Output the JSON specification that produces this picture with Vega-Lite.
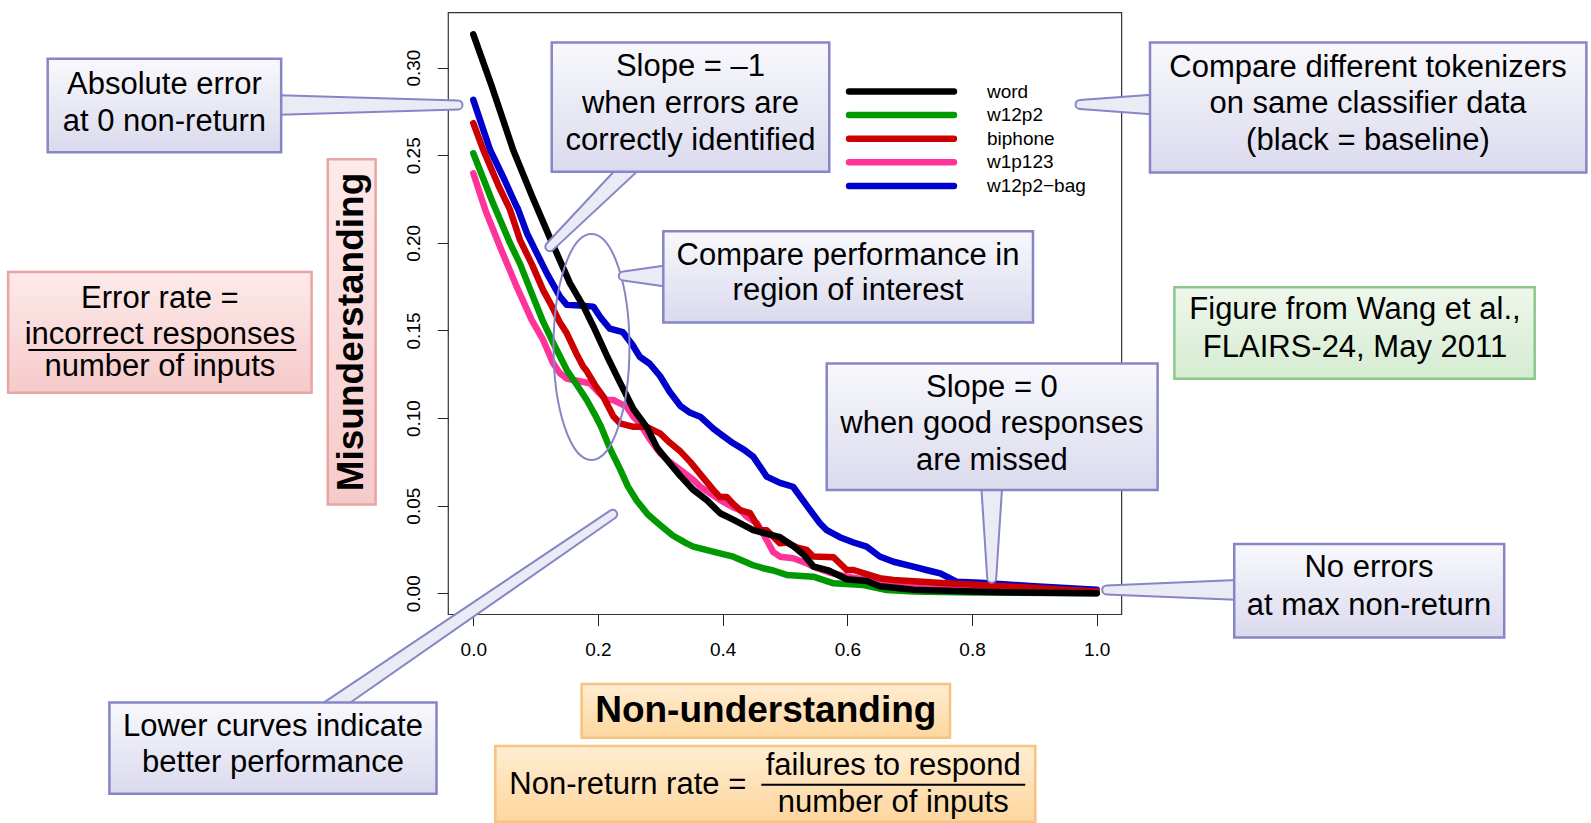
{
  "$schema": "https://vega.github.io/schema/vega-lite/v6.json",
  "width": 1591,
  "height": 823,
  "autosize": {"type": "none"},
  "padding": 0,
  "background": "#ffffff",
  "config": {"view": {"stroke": null}, "font": "Liberation Sans", "axis": {"grid": false, "domain": false}},
  "datasets": {
    "frame": [{"x0": -0.0401, "x1": 1.04, "y0": -0.0121, "y1": 0.3314}],
    "curves": [
      {"s": "w12p2−bag", "x": 0, "y": 0.2816}, {"s": "w12p2−bag", "x": 0.027, "y": 0.253}, {"s": "w12p2−bag", "x": 0.05, "y": 0.236}, {"s": "w12p2−bag", "x": 0.067, "y": 0.2226}, {"s": "w12p2−bag", "x": 0.072, "y": 0.219}, {"s": "w12p2−bag", "x": 0.086, "y": 0.2055}, {"s": "w12p2−bag", "x": 0.102, "y": 0.194}, {"s": "w12p2−bag", "x": 0.118, "y": 0.1826}, {"s": "w12p2−bag", "x": 0.139, "y": 0.1693}, {"s": "w12p2−bag", "x": 0.15, "y": 0.1646}, {"s": "w12p2−bag", "x": 0.17, "y": 0.1642}, {"s": "w12p2−bag", "x": 0.1925, "y": 0.1636}, {"s": "w12p2−bag", "x": 0.205, "y": 0.157}, {"s": "w12p2−bag", "x": 0.219, "y": 0.151}, {"s": "w12p2−bag", "x": 0.24, "y": 0.149}, {"s": "w12p2−bag", "x": 0.255, "y": 0.142}, {"s": "w12p2−bag", "x": 0.267, "y": 0.135}, {"s": "w12p2−bag", "x": 0.283, "y": 0.131}, {"s": "w12p2−bag", "x": 0.2995, "y": 0.124}, {"s": "w12p2−bag", "x": 0.315, "y": 0.115}, {"s": "w12p2−bag", "x": 0.332, "y": 0.107}, {"s": "w12p2−bag", "x": 0.348, "y": 0.103}, {"s": "w12p2−bag", "x": 0.364, "y": 0.1008}, {"s": "w12p2−bag", "x": 0.385, "y": 0.094}, {"s": "w12p2−bag", "x": 0.4, "y": 0.09}, {"s": "w12p2−bag", "x": 0.417, "y": 0.0856}, {"s": "w12p2−bag", "x": 0.434, "y": 0.082}, {"s": "w12p2−bag", "x": 0.449, "y": 0.078}, {"s": "w12p2−bag", "x": 0.4707, "y": 0.0666}, {"s": "w12p2−bag", "x": 0.492, "y": 0.063}, {"s": "w12p2−bag", "x": 0.513, "y": 0.0608}, {"s": "w12p2−bag", "x": 0.535, "y": 0.05}, {"s": "w12p2−bag", "x": 0.556, "y": 0.04}, {"s": "w12p2−bag", "x": 0.567, "y": 0.036}, {"s": "w12p2−bag", "x": 0.588, "y": 0.032}, {"s": "w12p2−bag", "x": 0.61, "y": 0.029}, {"s": "w12p2−bag", "x": 0.631, "y": 0.0266}, {"s": "w12p2−bag", "x": 0.652, "y": 0.021}, {"s": "w12p2−bag", "x": 0.674, "y": 0.018}, {"s": "w12p2−bag", "x": 0.706, "y": 0.0152}, {"s": "w12p2−bag", "x": 0.73, "y": 0.013}, {"s": "w12p2−bag", "x": 0.749, "y": 0.0114}, {"s": "w12p2−bag", "x": 0.775, "y": 0.0066}, {"s": "w12p2−bag", "x": 0.813, "y": 0.006}, {"s": "w12p2−bag", "x": 0.856, "y": 0.005}, {"s": "w12p2−bag", "x": 0.9, "y": 0.004}, {"s": "w12p2−bag", "x": 0.95, "y": 0.003}, {"s": "w12p2−bag", "x": 1.0, "y": 0.002},
      {"s": "w1p123", "x": 0, "y": 0.2397}, {"s": "w1p123", "x": 0.02, "y": 0.218}, {"s": "w1p123", "x": 0.0428, "y": 0.1978}, {"s": "w1p123", "x": 0.0696, "y": 0.175}, {"s": "w1p123", "x": 0.0936, "y": 0.156}, {"s": "w1p123", "x": 0.112, "y": 0.1446}, {"s": "w1p123", "x": 0.128, "y": 0.1313}, {"s": "w1p123", "x": 0.139, "y": 0.1256}, {"s": "w1p123", "x": 0.15, "y": 0.1225}, {"s": "w1p123", "x": 0.1604, "y": 0.1217}, {"s": "w1p123", "x": 0.187, "y": 0.1199}, {"s": "w1p123", "x": 0.2, "y": 0.115}, {"s": "w1p123", "x": 0.214, "y": 0.1103}, {"s": "w1p123", "x": 0.2246, "y": 0.1103}, {"s": "w1p123", "x": 0.2353, "y": 0.1084}, {"s": "w1p123", "x": 0.246, "y": 0.1065}, {"s": "w1p123", "x": 0.2567, "y": 0.1008}, {"s": "w1p123", "x": 0.267, "y": 0.097}, {"s": "w1p123", "x": 0.283, "y": 0.088}, {"s": "w1p123", "x": 0.2995, "y": 0.08}, {"s": "w1p123", "x": 0.315, "y": 0.075}, {"s": "w1p123", "x": 0.332, "y": 0.0704}, {"s": "w1p123", "x": 0.353, "y": 0.0647}, {"s": "w1p123", "x": 0.364, "y": 0.0608}, {"s": "w1p123", "x": 0.3956, "y": 0.0533}, {"s": "w1p123", "x": 0.417, "y": 0.049}, {"s": "w1p123", "x": 0.428, "y": 0.0475}, {"s": "w1p123", "x": 0.4386, "y": 0.0437}, {"s": "w1p123", "x": 0.455, "y": 0.04}, {"s": "w1p123", "x": 0.465, "y": 0.034}, {"s": "w1p123", "x": 0.4812, "y": 0.0235}, {"s": "w1p123", "x": 0.492, "y": 0.0209}, {"s": "w1p123", "x": 0.513, "y": 0.02}, {"s": "w1p123", "x": 0.535, "y": 0.0171}, {"s": "w1p123", "x": 0.5454, "y": 0.0152}, {"s": "w1p123", "x": 0.57, "y": 0.012}, {"s": "w1p123", "x": 0.599, "y": 0.0095}, {"s": "w1p123", "x": 0.652, "y": 0.0066}, {"s": "w1p123", "x": 0.7, "y": 0.005}, {"s": "w1p123", "x": 0.759, "y": 0.0038}, {"s": "w1p123", "x": 0.85, "y": 0.0025}, {"s": "w1p123", "x": 1.0, "y": 0.001},
      {"s": "biphone", "x": 0, "y": 0.2683}, {"s": "biphone", "x": 0.016, "y": 0.253}, {"s": "biphone", "x": 0.04, "y": 0.233}, {"s": "biphone", "x": 0.059, "y": 0.2188}, {"s": "biphone", "x": 0.075, "y": 0.2016}, {"s": "biphone", "x": 0.095, "y": 0.187}, {"s": "biphone", "x": 0.112, "y": 0.173}, {"s": "biphone", "x": 0.125, "y": 0.1645}, {"s": "biphone", "x": 0.139, "y": 0.1545}, {"s": "biphone", "x": 0.15, "y": 0.1484}, {"s": "biphone", "x": 0.165, "y": 0.137}, {"s": "biphone", "x": 0.1765, "y": 0.1293}, {"s": "biphone", "x": 0.182, "y": 0.1268}, {"s": "biphone", "x": 0.195, "y": 0.119}, {"s": "biphone", "x": 0.2085, "y": 0.1122}, {"s": "biphone", "x": 0.2246, "y": 0.101}, {"s": "biphone", "x": 0.2353, "y": 0.097}, {"s": "biphone", "x": 0.257, "y": 0.095}, {"s": "biphone", "x": 0.278, "y": 0.095}, {"s": "biphone", "x": 0.2995, "y": 0.0913}, {"s": "biphone", "x": 0.315, "y": 0.086}, {"s": "biphone", "x": 0.332, "y": 0.081}, {"s": "biphone", "x": 0.348, "y": 0.075}, {"s": "biphone", "x": 0.364, "y": 0.068}, {"s": "biphone", "x": 0.385, "y": 0.059}, {"s": "biphone", "x": 0.3956, "y": 0.055}, {"s": "biphone", "x": 0.4065, "y": 0.055}, {"s": "biphone", "x": 0.417, "y": 0.051}, {"s": "biphone", "x": 0.428, "y": 0.0475}, {"s": "biphone", "x": 0.444, "y": 0.0457}, {"s": "biphone", "x": 0.46, "y": 0.036}, {"s": "biphone", "x": 0.4707, "y": 0.036}, {"s": "biphone", "x": 0.492, "y": 0.0285}, {"s": "biphone", "x": 0.5027, "y": 0.029}, {"s": "biphone", "x": 0.52, "y": 0.026}, {"s": "biphone", "x": 0.535, "y": 0.0247}, {"s": "biphone", "x": 0.5454, "y": 0.021}, {"s": "biphone", "x": 0.578, "y": 0.0205}, {"s": "biphone", "x": 0.599, "y": 0.0133}, {"s": "biphone", "x": 0.61, "y": 0.0133}, {"s": "biphone", "x": 0.652, "y": 0.0086}, {"s": "biphone", "x": 0.674, "y": 0.0076}, {"s": "biphone", "x": 0.759, "y": 0.0057}, {"s": "biphone", "x": 0.866, "y": 0.0038}, {"s": "biphone", "x": 0.95, "y": 0.002}, {"s": "biphone", "x": 1.0, "y": 0.001},
      {"s": "w12p2", "x": 0, "y": 0.2511}, {"s": "w12p2", "x": 0.03, "y": 0.224}, {"s": "w12p2", "x": 0.059, "y": 0.1998}, {"s": "w12p2", "x": 0.075, "y": 0.188}, {"s": "w12p2", "x": 0.095, "y": 0.17}, {"s": "w12p2", "x": 0.112, "y": 0.155}, {"s": "w12p2", "x": 0.128, "y": 0.143}, {"s": "w12p2", "x": 0.15, "y": 0.1274}, {"s": "w12p2", "x": 0.166, "y": 0.119}, {"s": "w12p2", "x": 0.182, "y": 0.1103}, {"s": "w12p2", "x": 0.195, "y": 0.102}, {"s": "w12p2", "x": 0.205, "y": 0.095}, {"s": "w12p2", "x": 0.22, "y": 0.082}, {"s": "w12p2", "x": 0.2353, "y": 0.071}, {"s": "w12p2", "x": 0.248, "y": 0.061}, {"s": "w12p2", "x": 0.262, "y": 0.053}, {"s": "w12p2", "x": 0.28, "y": 0.045}, {"s": "w12p2", "x": 0.2995, "y": 0.039}, {"s": "w12p2", "x": 0.32, "y": 0.033}, {"s": "w12p2", "x": 0.342, "y": 0.0285}, {"s": "w12p2", "x": 0.353, "y": 0.0266}, {"s": "w12p2", "x": 0.3956, "y": 0.0228}, {"s": "w12p2", "x": 0.4171, "y": 0.0209}, {"s": "w12p2", "x": 0.449, "y": 0.016}, {"s": "w12p2", "x": 0.465, "y": 0.0143}, {"s": "w12p2", "x": 0.4812, "y": 0.013}, {"s": "w12p2", "x": 0.5027, "y": 0.0105}, {"s": "w12p2", "x": 0.5454, "y": 0.0095}, {"s": "w12p2", "x": 0.578, "y": 0.0057}, {"s": "w12p2", "x": 0.6256, "y": 0.0047}, {"s": "w12p2", "x": 0.663, "y": 0.0019}, {"s": "w12p2", "x": 0.706, "y": 0.001}, {"s": "w12p2", "x": 0.8, "y": 0.0005}, {"s": "w12p2", "x": 1.0, "y": 0.0},
      {"s": "word", "x": 0, "y": 0.319}, {"s": "word", "x": 0.03, "y": 0.289}, {"s": "word", "x": 0.064, "y": 0.253}, {"s": "word", "x": 0.095, "y": 0.226}, {"s": "word", "x": 0.124, "y": 0.202}, {"s": "word", "x": 0.155, "y": 0.177}, {"s": "word", "x": 0.177, "y": 0.1636}, {"s": "word", "x": 0.193, "y": 0.152}, {"s": "word", "x": 0.215, "y": 0.135}, {"s": "word", "x": 0.235, "y": 0.1205}, {"s": "word", "x": 0.257, "y": 0.105}, {"s": "word", "x": 0.278, "y": 0.095}, {"s": "word", "x": 0.295, "y": 0.083}, {"s": "word", "x": 0.315, "y": 0.0742}, {"s": "word", "x": 0.332, "y": 0.067}, {"s": "word", "x": 0.353, "y": 0.059}, {"s": "word", "x": 0.375, "y": 0.053}, {"s": "word", "x": 0.396, "y": 0.0457}, {"s": "word", "x": 0.417, "y": 0.042}, {"s": "word", "x": 0.449, "y": 0.036}, {"s": "word", "x": 0.47, "y": 0.034}, {"s": "word", "x": 0.492, "y": 0.032}, {"s": "word", "x": 0.513, "y": 0.027}, {"s": "word", "x": 0.53, "y": 0.022}, {"s": "word", "x": 0.546, "y": 0.0152}, {"s": "word", "x": 0.57, "y": 0.013}, {"s": "word", "x": 0.599, "y": 0.008}, {"s": "word", "x": 0.631, "y": 0.007}, {"s": "word", "x": 0.652, "y": 0.004}, {"s": "word", "x": 0.68, "y": 0.003}, {"s": "word", "x": 0.706, "y": 0.002}, {"s": "word", "x": 0.8, "y": 0.001}, {"s": "word", "x": 0.866, "y": 0.0005}, {"s": "word", "x": 1.0, "y": 0.0}
    ],
    "ellipse": [{"x": 0.1896, "y": 0.1406}],
    "pointers": [
      {"p": "p1", "part": "base", "x": -0.4283, "y": 0.2787}, {"p": "p1", "part": "tip", "x": -0.0245, "y": 0.2787},
      {"p": "p2", "part": "base", "x": 0.3675, "y": 0.2848}, {"p": "p2", "part": "tip", "x": 0.1228, "y": 0.1978},
      {"p": "p4", "part": "base", "x": 1.1368, "y": 0.279}, {"p": "p4", "part": "tip", "x": 0.9733, "y": 0.279},
      {"p": "p8", "part": "base", "x": 0.3248, "y": 0.1811}, {"p": "p8", "part": "tip", "x": 0.2406, "y": 0.1811},
      {"p": "p10", "part": "base", "x": 0.8316, "y": 0.0747}, {"p": "p10", "part": "tip", "x": 0.8316, "y": 0.0086},
      {"p": "p11", "part": "base", "x": 1.3048, "y": 0.0019}, {"p": "p11", "part": "tip", "x": 1.016, "y": 0.0019},
      {"p": "p12", "part": "narrowbase", "x": -0.3282, "y": -0.0891}, {"p": "p12", "part": "tip", "x": 0.2236, "y": 0.0451}
    ],
    "boxes": [
      {"kind": "note", "x0": -0.6827, "x1": -0.3082, "y0": 0.305, "y1": 0.2517},
      {"kind": "note", "x0": 0.1258, "x1": 0.571, "y0": 0.3143, "y1": 0.2406},
      {"kind": "note", "x0": 1.0855, "x1": 1.7855, "y0": 0.3143, "y1": 0.2401},
      {"kind": "note", "x0": 0.3048, "x1": 0.8978, "y0": 0.2066, "y1": 0.1545},
      {"kind": "note", "x0": 0.5669, "x1": 1.0977, "y0": 0.1312, "y1": 0.0589},
      {"kind": "note", "x0": 1.2206, "x1": 1.6537, "y0": 0.0281, "y1": -0.0252},
      {"kind": "note", "x0": -0.5837, "x1": -0.059, "y0": -0.0623, "y1": -0.1144},
      {"kind": "error", "x0": -0.7462, "x1": -0.2594, "y0": 0.1834, "y1": 0.1144},
      {"kind": "error", "x0": -0.2334, "x1": -0.1567, "y0": 0.2477, "y1": 0.0507},
      {"kind": "source", "x0": 1.1246, "x1": 1.7026, "y0": 0.1747, "y1": 0.1225},
      {"kind": "nonret", "x0": 0.1737, "x1": 0.7647, "y0": -0.0518, "y1": -0.0825},
      {"kind": "nonret", "x0": 0.0353, "x1": 0.9015, "y0": -0.0872, "y1": -0.1305}
    ],
    "texts": [
      {"t": "Absolute error", "x": -0.4955, "y": 0.29},
      {"t": "at 0 non-return", "x": -0.4955, "y": 0.2691},
      {"t": "Slope = –1", "x": 0.3484, "y": 0.3001},
      {"t": "when errors are", "x": 0.3484, "y": 0.2792},
      {"t": "correctly identified", "x": 0.3484, "y": 0.2583},
      {"t": "Compare different tokenizers", "x": 1.4352, "y": 0.2998},
      {"t": "on same classifier data", "x": 1.4352, "y": 0.279},
      {"t": "(black = baseline)", "x": 1.4352, "y": 0.2581},
      {"t": "Error rate =", "x": -0.5027, "y": 0.1677},
      {"t": "incorrect responses", "x": -0.5027, "y": 0.1474},
      {"t": "number of inputs", "x": -0.5027, "y": 0.1289},
      {"t": "Compare performance in", "x": 0.6011, "y": 0.1926},
      {"t": "region of interest", "x": 0.6011, "y": 0.1724},
      {"t": "Figure from Wang et al.,", "x": 1.4143, "y": 0.1614},
      {"t": "FLAIRS-24, May 2011", "x": 1.4143, "y": 0.14},
      {"t": "Slope = 0", "x": 0.8319, "y": 0.1174},
      {"t": "when good responses", "x": 0.8319, "y": 0.0965},
      {"t": "are missed", "x": 0.8319, "y": 0.0756},
      {"t": "No errors", "x": 1.4368, "y": 0.0142},
      {"t": "at max non-return", "x": 1.4368, "y": -0.0072},
      {"t": "Lower curves indicate", "x": -0.3213, "y": -0.0761},
      {"t": "better performance", "x": -0.3213, "y": -0.097},
      {"t": "Non-return rate =", "x": 0.2478, "y": -0.1092},
      {"t": "failures to respond", "x": 0.6736, "y": -0.0987},
      {"t": "number of inputs", "x": 0.6736, "y": -0.1196}
    ],
    "boldh": [{"t": "Non-understanding", "x": 0.4692, "y": -0.0672}],
    "boldv": [{"t": "Misunderstanding", "x": -0.1951, "y": 0.1491}],
    "bars": [
      {"x0": -0.7137, "x1": -0.2838, "y": 0.1388},
      {"x0": 0.462, "x1": 0.8853, "y": -0.1092}
    ]
  },
  "layer": [
    {
      "data": {"name": "curves"},
      "mark": {"type": "line", "strokeWidth": 6.5, "strokeCap": "round", "strokeJoin": "round"},
      "encoding": {
        "x": {"field": "x", "type": "quantitative", "title": null, "scale": {"domain": [-0.7592, 1.7929], "nice": false, "zero": false},
          "axis": {"values": [0, 0.2, 0.4, 0.6, 0.8, 1.0], "format": ".1f", "offset": -208.5, "tickSize": 11, "labelPadding": 15, "domain": false, "grid": false, "title": null, "labelFont": "Liberation Sans", "labelFontSize": 19, "tickColor": "#222222", "labelColor": "#000000", "labelFlush": false, "labelOverlap": false}},
        "y": {"field": "y", "type": "quantitative", "title": null, "scale": {"domain": [-0.1311, 0.3386], "nice": false, "zero": false},
          "axis": {"values": [0, 0.05, 0.1, 0.15, 0.2, 0.25, 0.3], "format": ".2f", "offset": -448.3, "tickSize": 11, "labelPadding": 14, "labelAngle": -90, "labelAlign": "center", "labelBaseline": "bottom", "domain": false, "grid": false, "title": null, "labelFont": "Liberation Sans", "labelFontSize": 19, "tickColor": "#222222", "labelColor": "#000000", "labelFlush": false, "labelOverlap": false}},
        "color": {"field": "s", "type": "nominal",
          "scale": {"domain": ["word", "w12p2", "biphone", "w1p123", "w12p2−bag"], "range": ["#000000", "#009a00", "#cc0000", "#ff3399", "#0000cc"]},
          "legend": {"orient": "none", "legendX": 892, "legendY": 82, "title": null, "symbolType": "M-10,0H10", "symbolSize": 110, "symbolStrokeWidth": 6.5, "labelFont": "Liberation Sans", "labelFontSize": 19, "labelColor": "#000000", "labelOffset": 76, "rowPadding": -3.4, "padding": 0,
            "encode": {"symbols": {"update": {"strokeCap": {"value": "round"}}}}}
        }
      }
    },
    {
      "data": {"name": "frame"},
      "mark": {"type": "rect", "filled": false, "stroke": "#333333", "strokeWidth": 1.2},
      "encoding": {
        "x": {"field": "x0", "type": "quantitative", "title": null, "scale": {"domain": [-0.7592, 1.7929], "nice": false, "zero": false}},
        "x2": {"field": "x1"},
        "y": {"field": "y0", "type": "quantitative", "title": null, "scale": {"domain": [-0.1311, 0.3386], "nice": false, "zero": false}},
        "y2": {"field": "y1"}
      }
    },
    {
      "data": {"name": "ellipse"},
      "mark": {"type": "point", "shape": "M-0.336,0A0.336,1,0,1,0,0.336,0A0.336,1,0,1,0,-0.336,0Z", "size": 51076, "filled": false, "stroke": "#8686c6", "strokeWidth": 2, "opacity": 1},
      "encoding": {
        "x": {"field": "x", "type": "quantitative", "title": null, "scale": {"domain": [-0.7592, 1.7929], "nice": false, "zero": false}},
        "y": {"field": "y", "type": "quantitative", "title": null, "scale": {"domain": [-0.1311, 0.3386], "nice": false, "zero": false}}
      }
    },
    {
      "data": {"name": "pointers"},
      "mark": {"type": "trail", "fill": "#ebebf6", "stroke": "#8686c6", "strokeWidth": 2},
      "encoding": {
        "x": {"field": "x", "type": "quantitative", "title": null, "scale": {"domain": [-0.7592, 1.7929], "nice": false, "zero": false}},
        "y": {"field": "y", "type": "quantitative", "title": null, "scale": {"domain": [-0.1311, 0.3386], "nice": false, "zero": false}},
        "detail": {"field": "p", "type": "nominal"},
        "size": {"field": "part", "type": "ordinal", "scale": {"domain": ["base", "narrowbase", "tip"], "range": [24, 9, 0]}, "legend": null}
      }
    },
    {
      "data": {"name": "boxes"},
      "transform": [{"filter": "datum.kind === 'note'"}],
      "mark": {"type": "rect", "stroke": "#8686c6", "strokeWidth": 2.5,
        "fill": {"gradient": "linear", "x1": 0, "y1": 0, "x2": 0, "y2": 1, "stops": [{"offset": 0, "color": "#f8f8fc"}, {"offset": 1, "color": "#dadaee"}]}},
      "encoding": {
        "x": {"field": "x0", "type": "quantitative", "title": null, "scale": {"domain": [-0.7592, 1.7929], "nice": false, "zero": false}},
        "x2": {"field": "x1"},
        "y": {"field": "y0", "type": "quantitative", "title": null, "scale": {"domain": [-0.1311, 0.3386], "nice": false, "zero": false}},
        "y2": {"field": "y1"}
      }
    },
    {
      "data": {"name": "boxes"},
      "transform": [{"filter": "datum.kind === 'error'"}],
      "mark": {"type": "rect", "stroke": "#eba3a3", "strokeWidth": 2.5,
        "fill": {"gradient": "linear", "x1": 0, "y1": 0, "x2": 0, "y2": 1, "stops": [{"offset": 0, "color": "#fdeaea"}, {"offset": 1, "color": "#f6caca"}]}},
      "encoding": {
        "x": {"field": "x0", "type": "quantitative", "title": null, "scale": {"domain": [-0.7592, 1.7929], "nice": false, "zero": false}},
        "x2": {"field": "x1"},
        "y": {"field": "y0", "type": "quantitative", "title": null, "scale": {"domain": [-0.1311, 0.3386], "nice": false, "zero": false}},
        "y2": {"field": "y1"}
      }
    },
    {
      "data": {"name": "boxes"},
      "transform": [{"filter": "datum.kind === 'source'"}],
      "mark": {"type": "rect", "stroke": "#8cc88c", "strokeWidth": 2.5,
        "fill": {"gradient": "linear", "x1": 0, "y1": 0, "x2": 0, "y2": 1, "stops": [{"offset": 0, "color": "#eef7ec"}, {"offset": 1, "color": "#d5ecd1"}]}},
      "encoding": {
        "x": {"field": "x0", "type": "quantitative", "title": null, "scale": {"domain": [-0.7592, 1.7929], "nice": false, "zero": false}},
        "x2": {"field": "x1"},
        "y": {"field": "y0", "type": "quantitative", "title": null, "scale": {"domain": [-0.1311, 0.3386], "nice": false, "zero": false}},
        "y2": {"field": "y1"}
      }
    },
    {
      "data": {"name": "boxes"},
      "transform": [{"filter": "datum.kind === 'nonret'"}],
      "mark": {"type": "rect", "stroke": "#f5c47e", "strokeWidth": 2.5,
        "fill": {"gradient": "linear", "x1": 0, "y1": 0, "x2": 0, "y2": 1, "stops": [{"offset": 0, "color": "#ffedd2"}, {"offset": 1, "color": "#fdd69e"}]}},
      "encoding": {
        "x": {"field": "x0", "type": "quantitative", "title": null, "scale": {"domain": [-0.7592, 1.7929], "nice": false, "zero": false}},
        "x2": {"field": "x1"},
        "y": {"field": "y0", "type": "quantitative", "title": null, "scale": {"domain": [-0.1311, 0.3386], "nice": false, "zero": false}},
        "y2": {"field": "y1"}
      }
    },
    {
      "data": {"name": "texts"},
      "mark": {"type": "text", "font": "Liberation Sans", "fontSize": 31, "align": "center", "baseline": "middle", "color": "#000000"},
      "encoding": {
        "x": {"field": "x", "type": "quantitative", "title": null, "scale": {"domain": [-0.7592, 1.7929], "nice": false, "zero": false}},
        "y": {"field": "y", "type": "quantitative", "title": null, "scale": {"domain": [-0.1311, 0.3386], "nice": false, "zero": false}},
        "text": {"field": "t"}
      }
    },
    {
      "data": {"name": "boldh"},
      "mark": {"type": "text", "font": "Liberation Sans", "fontSize": 37, "fontWeight": "bold", "align": "center", "baseline": "middle", "color": "#000000"},
      "encoding": {
        "x": {"field": "x", "type": "quantitative", "title": null, "scale": {"domain": [-0.7592, 1.7929], "nice": false, "zero": false}},
        "y": {"field": "y", "type": "quantitative", "title": null, "scale": {"domain": [-0.1311, 0.3386], "nice": false, "zero": false}},
        "text": {"field": "t"}
      }
    },
    {
      "data": {"name": "boldv"},
      "mark": {"type": "text", "font": "Liberation Sans", "fontSize": 37, "fontWeight": "bold", "align": "center", "baseline": "middle", "angle": 270, "color": "#000000"},
      "encoding": {
        "x": {"field": "x", "type": "quantitative", "title": null, "scale": {"domain": [-0.7592, 1.7929], "nice": false, "zero": false}},
        "y": {"field": "y", "type": "quantitative", "title": null, "scale": {"domain": [-0.1311, 0.3386], "nice": false, "zero": false}},
        "text": {"field": "t"}
      }
    },
    {
      "data": {"name": "bars"},
      "mark": {"type": "rule", "stroke": "#000000", "strokeWidth": 2},
      "encoding": {
        "x": {"field": "x0", "type": "quantitative", "title": null, "scale": {"domain": [-0.7592, 1.7929], "nice": false, "zero": false}},
        "x2": {"field": "x1"},
        "y": {"field": "y", "type": "quantitative", "title": null, "scale": {"domain": [-0.1311, 0.3386], "nice": false, "zero": false}}
      }
    }
  ]
}
